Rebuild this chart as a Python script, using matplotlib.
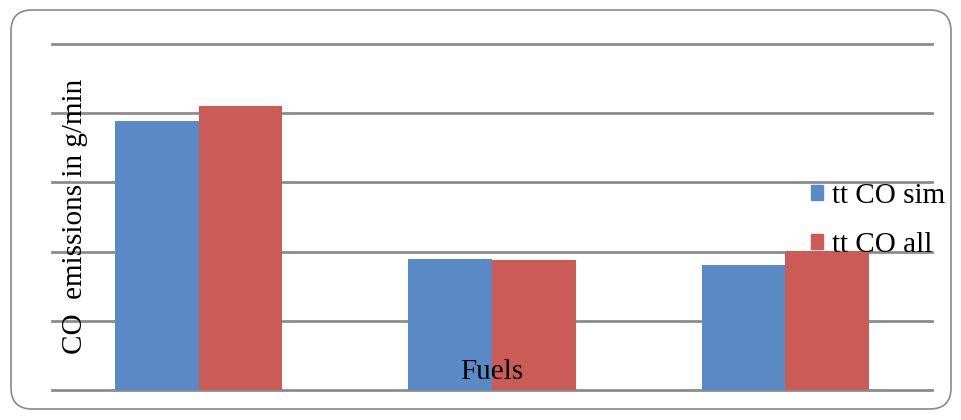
import matplotlib
matplotlib.use("Agg")
import matplotlib.pyplot as plt
import numpy as np
from matplotlib.patches import FancyBboxPatch, Patch

plt.rcParams['font.family'] = ['Liberation Serif', 'DejaVu Serif']

# CO emissions per fuel (no category labels on the chart)
fuels = ['', '', '']
tt_co_sim = [3.89, 1.89, 1.80]
tt_co_all = [4.10, 1.88, 2.01]
series_names = ['tt CO sim', 'tt CO all']
colors = ['#5A8AC6', '#CB5B57']

fig = plt.figure(figsize=(9.61, 4.2), dpi=100)

# rounded frame around the whole chart
frame = FancyBboxPatch((11 / 961, 11 / 420), 940 / 961, 399 / 420,
                       boxstyle="round,pad=0,rounding_size=0.022",
                       transform=fig.transFigure, facecolor='white',
                       edgecolor='#8a8a8a', linewidth=1.2,
                       mutation_aspect=961 / 420, zorder=-1)
fig.patches.append(frame)

ax = fig.add_axes([52 / 961, 30 / 420, 880 / 961, 346 / 420])
ax.set_facecolor('none')
ax.set_zorder(2)

x = np.arange(len(fuels))
w = 0.285
ax.bar(x - w / 2, tt_co_sim, width=w, color=colors[0], zorder=3)
ax.bar(x + w / 2, tt_co_all, width=w, color=colors[1], zorder=3)

ax.set_xlim(-0.5, len(fuels) - 0.5)
ax.set_ylim(0, 5)
ax.set_yticks(np.arange(0, 6))
ax.yaxis.grid(True, color='#8c8c8c', linewidth=2, zorder=1)
for gl in ax.get_ygridlines():
    gl.set_clip_on(False)
ax.set_axisbelow(True)
ax.tick_params(left=False, bottom=False, labelleft=False, labelbottom=False)
for s in ax.spines.values():
    s.set_visible(False)

ax.text(75 / 961, 1 - 216 / 420, 'CO  emissions in g/min', rotation=90,
        transform=fig.transFigure, ha='center', va='center', fontsize=21, zorder=5)
ax.text(492 / 961, 1 - 372 / 420, 'Fuels', transform=fig.transFigure,
        ha='center', va='center', fontsize=21, zorder=5)

handles = [Patch(color=c) for c in colors]
leg = ax.legend(handles, series_names, loc='upper left', frameon=False,
                bbox_to_anchor=(796 / 961, 1 - 168 / 420), bbox_transform=fig.transFigure,
                fontsize=21, handlelength=0.42, handleheight=0.42, handletextpad=0.3,
                labelspacing=0.8, borderpad=0)
leg.set_zorder(6)

fig.savefig('out.png', dpi=100)
